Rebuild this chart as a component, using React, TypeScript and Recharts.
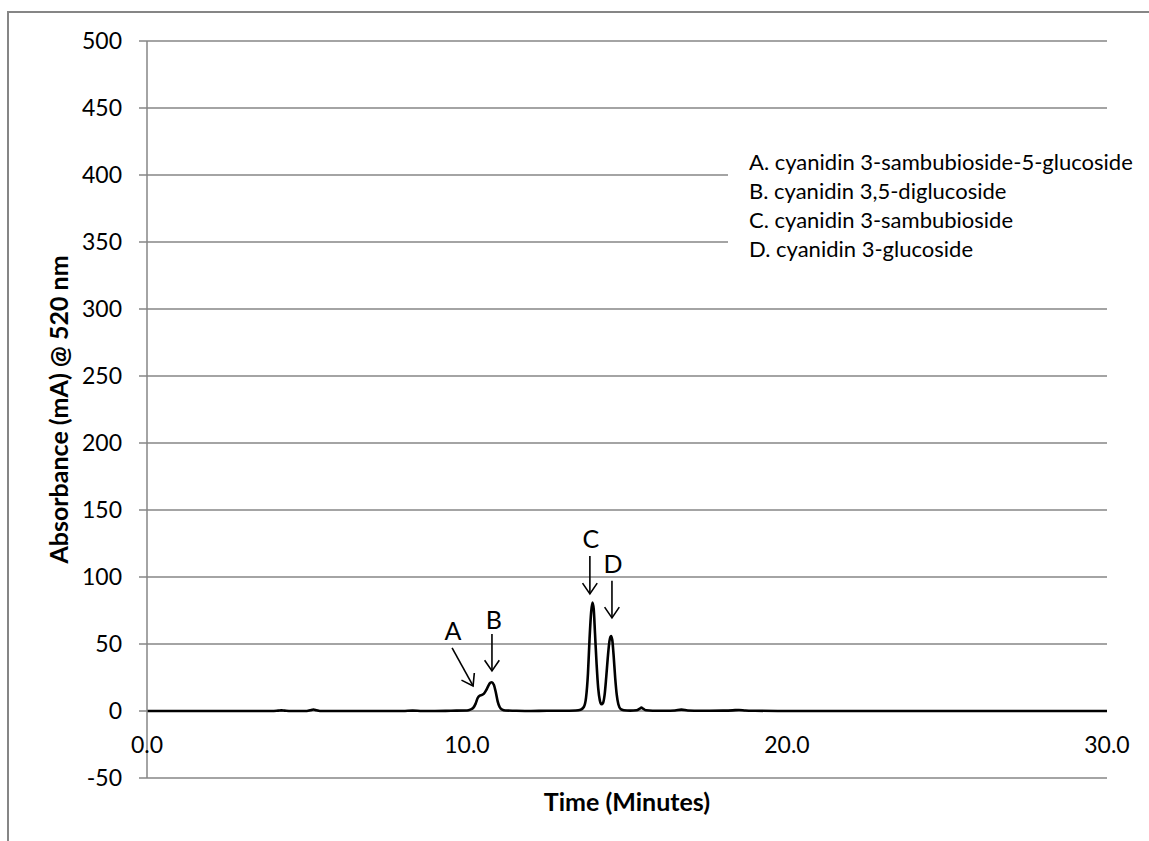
import React from 'react';
import {
  LineChart, Line, XAxis, YAxis, CartesianGrid, ReferenceDot, Label,
} from 'recharts';

// retention time (min) and absorbance (mA)
const TIMES = [
  0, 1, 2, 3, 3.9, 4.1, 4.2, 4.3, 4.5, 5.0, 5.1, 5.2, 5.3, 5.4, 6, 7, 8, 8.3, 8.6, 9, 9.5, 10.0,
  10.1, 10.2, 10.27, 10.33, 10.4, 10.47, 10.53, 10.6, 10.67, 10.73, 10.78, 10.84, 10.9, 10.96, 11.02, 11.1, 11.2,
  11.5, 12, 12.5, 13, 13.4, 13.55, 13.65, 13.72, 13.78, 13.83, 13.88, 13.92, 13.96, 14.0, 14.05, 14.1, 14.15,
  14.2, 14.25, 14.3, 14.35, 14.4, 14.45, 14.5, 14.54, 14.58, 14.63, 14.68, 14.73, 14.8, 14.9, 15.1,
  15.3, 15.4, 15.45, 15.5, 15.6, 15.8, 16.2, 16.5, 16.7, 16.9, 17.3, 18.0, 18.3, 18.5, 18.7, 19, 20,
  21, 22, 23, 24, 25, 26, 27, 28, 29, 30,
];
const ABSORBANCE = [
  0, 0, 0, 0, 0, 0.3, 0.5, 0.3, 0, 0, 0.5, 1.1, 0.5, 0, 0, 0, 0, 0.3, 0, 0, 0.2, 0.4,
  1, 2.5, 5.5, 9.5, 11.5, 12, 13, 15.5, 19, 21, 21.5, 19.5, 14, 7, 3, 1, 0.4,
  0.2, 0, 0.2, 0.2, 0.4, 1, 3, 10, 28, 54, 74, 81, 76, 58, 35, 17, 8,
  5, 6, 12, 25, 40, 52, 56, 53, 42, 25, 12, 5, 1.5, 0.6, 0.3,
  0.6, 1.8, 2.5, 1.8, 0.5, 0.2, 0.2, 0.4, 1, 0.4, 0.2, 0.3, 0.5, 0.8, 0.4, 0.2, 0,
  0, 0, 0, 0, 0, 0, 0, 0, 0, 0,
];

const X_TICKS = [0, 10, 20, 30];
const Y_TICKS = [-50, 0, 50, 100, 150, 200, 250, 300, 350, 400, 450, 500];

const PEAK_LABELS = ['A', 'B', 'C', 'D'];
const PEAK_NAMES = [
  'A. cyanidin 3-sambubioside-5-glucoside',
  'B. cyanidin 3,5-diglucoside',
  'C. cyanidin 3-sambubioside',
  'D. cyanidin 3-glucoside',
];
// arrow tip in data units, tail & letter offsets in pixels
const ARROWS = [
  { label: 'A', x: 10.19, y: 18.7, dx: -21, dy: -38, lx: -20, ly: -56 },
  { label: 'B', x: 10.78, y: 29.9, dx: 0, dy: -37, lx: 2, ly: -52 },
  { label: 'C', x: 13.84, y: 87.4, dx: 0, dy: -38, lx: 1, ly: -56 },
  { label: 'D', x: 14.53, y: 69.5, dx: 0, dy: -37, lx: 1, ly: -55 },
];

const data = TIMES.map((t, i) => ({ t, v: ABSORBANCE[i] }));

const FONT = 'Lato, "Noto Sans", sans-serif';
const GRID = '#868686';

function XTick({ x, y, payload }: any) {
  return (
    <text x={x} y={y - 25} textAnchor="middle" fontSize={23} fontFamily={FONT} fill="#000">
      {Number(payload.value).toFixed(1)}
    </text>
  );
}

function arrowShape(a: any) {
  return ({ cx, cy }: any) => {
    const tx = cx + a.dx;
    const ty = cy + a.dy;
    const ang = Math.atan2(cy - ty, cx - tx);
    const len = 13;
    const spread = 0.6;
    const h1x = cx - len * Math.cos(ang - spread);
    const h1y = cy - len * Math.sin(ang - spread);
    const h2x = cx - len * Math.cos(ang + spread);
    const h2y = cy - len * Math.sin(ang + spread);
    return (
      <g>
        <line x1={tx} y1={ty} x2={cx} y2={cy} stroke="#000" strokeWidth={1.6} />
        <polyline points={`${h1x},${h1y} ${cx},${cy} ${h2x},${h2y}`} fill="none" stroke="#000" strokeWidth={1.6} />
        <text x={cx + a.lx} y={cy + a.ly} textAnchor="middle" dominantBaseline="central"
          fontSize={25} fontFamily={FONT} fill="#000">{a.label}</text>
      </g>
    );
  };
}

export default function App() {
  return (
    <div style={{ position: 'absolute', left: 0, top: 0, width: 1149, height: 841, overflow: 'hidden', background: '#fff' }}>
      <div style={{
        position: 'absolute', left: 7, top: 11, width: 1200, height: 900,
        borderLeft: `2px solid ${GRID}`, borderTop: `2px solid ${GRID}`,
      }} />
      <LineChart
        width={1149}
        height={841}
        data={data}
        margin={{ top: 41, right: 42, bottom: 33, left: 0 }}
        style={{ position: 'absolute', left: 0, top: 0 }}
      >
        <CartesianGrid vertical={false} stroke={GRID} strokeWidth={1.5} />
        <XAxis
          dataKey="t"
          type="number"
          domain={[0, 30]}
          ticks={X_TICKS}
          axisLine={false}
          tickLine={false}
          tickSize={0}
          tickMargin={0}
          height={30}
          tick={<XTick />}
        >
          <Label
            content={({ viewBox }: any) => (
              <text x={viewBox.x + viewBox.width / 2} y={811} textAnchor="middle"
                fontSize={25} fontWeight="bold" fontFamily={FONT} fill="#000">
                Time (Minutes)
              </text>
            )}
          />
        </XAxis>
        <YAxis
          type="number"
          domain={[-50, 500]}
          ticks={Y_TICKS}
          interval={0}
          width={147}
          tickSize={8}
          tickMargin={17}
          axisLine={{ stroke: GRID, strokeWidth: 1.5 }}
          tickLine={{ stroke: GRID, strokeWidth: 1.5 }}
          tick={{ fill: '#000', fontSize: 23, fontFamily: FONT }}
        >
          <Label
            content={({ viewBox }: any) => {
              const cx = 58;
              const cy = viewBox.y + viewBox.height / 2;
              return (
                <text x={cx} y={cy} transform={`rotate(-90, ${cx}, ${cy})`} textAnchor="middle"
                  dominantBaseline="central" fontSize={25} fontWeight="bold" fontFamily={FONT} fill="#000">
                  Absorbance (mA) @ 520 nm
                </text>
              );
            }}
          />
        </YAxis>
        <Line
          type="monotone"
          dataKey="v"
          stroke="#000"
          strokeWidth={2.6}
          dot={false}
          isAnimationActive={false}
        />
        {ARROWS.map((a) => (
          <ReferenceDot key={a.label} x={a.x} y={a.y} r={0} shape={arrowShape(a)} />
        ))}
      </LineChart>
      <div style={{
        position: 'absolute', left: 728, top: 147, width: 421, height: 116,
        background: '#fff', fontFamily: FONT, fontSize: 22, lineHeight: '29px', color: '#000',
        paddingLeft: 21, boxSizing: 'border-box', whiteSpace: 'nowrap',
      }}>
        {PEAK_NAMES.map((n, i) => (
          <div key={PEAK_LABELS[i]}>{n}</div>
        ))}
      </div>
    </div>
  );
}
